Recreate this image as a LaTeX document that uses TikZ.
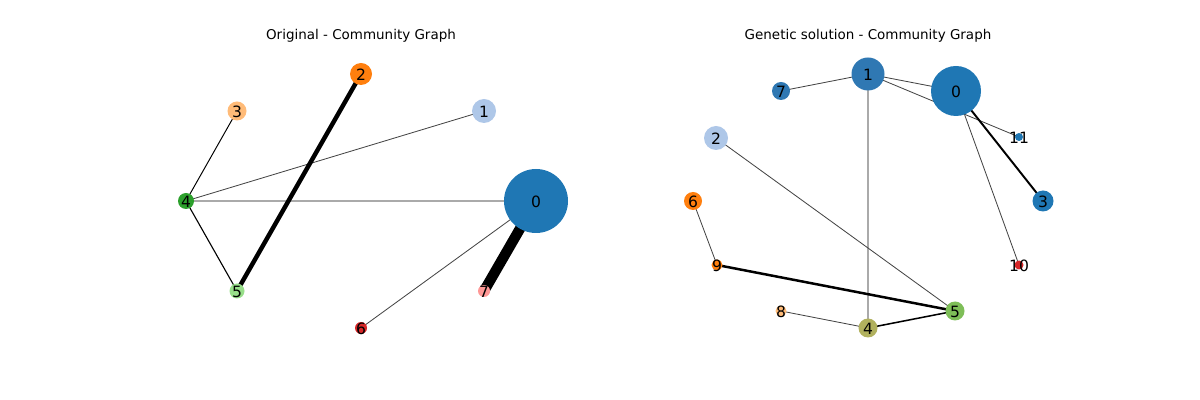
\documentclass[tikz,border=0pt]{standalone}
\usepackage{fontspec}
\setmainfont{DejaVu Sans}
\usetikzlibrary{backgrounds}
\definecolor{cA}{HTML}{1F77B4}
\definecolor{cB}{HTML}{AEC7E8}
\definecolor{cC}{HTML}{FF7F0E}
\definecolor{cD}{HTML}{FFBB78}
\definecolor{cE}{HTML}{2CA02C}
\definecolor{cF}{HTML}{98DF8A}
\definecolor{cG}{HTML}{D62728}
\definecolor{cH}{HTML}{FF9896}
\definecolor{cI}{HTML}{2F78B3}
\definecolor{cJ}{HTML}{B1B15E}
\definecolor{cK}{HTML}{7EBE58}
\definecolor{edk}{HTML}{444444}
\definecolor{egr}{HTML}{AAAAAA}
\tikzset{
  x=0.72pt, y=-0.72pt,
  nd/.style={circle, fill=#1, inner sep=0pt, outer sep=0pt},
  lbl/.style={label={[font=\fontsize{11.2}{12}\selectfont, text=black, inner sep=0pt, yshift=-0.5pt]center:#1}},
  thin edge/.style={draw=edk, line width=0.6pt},
  blk edge/.style={draw=black, line width=#1},
  gry edge/.style={draw=egr, line width=#1},
  ttl/.style={font=\fontsize{9.7}{11}\selectfont, text=black, anchor=base}
}
\begin{document}
\begin{tikzpicture}
\useasboundingbox (0,0) rectangle (1200,400);
% titles
\node[ttl] (t1) at (361,40) {Original - Community Graph};
\node[ttl] (t2) at (868,40) {Genetic solution - Community Graph};
% left graph nodes
\node[nd=cA, minimum size=64*0.72pt, lbl=0] (L0) at (536,201) {};
\node[nd=cB, minimum size=24*0.72pt, lbl=1] (L1) at (484,111) {};
\node[nd=cC, minimum size=22*0.72pt, lbl=2] (L2) at (361,74) {};
\node[nd=cD, minimum size=19*0.72pt, lbl=3] (L3) at (237,111) {};
\node[nd=cE, minimum size=16*0.72pt, lbl=4] (L4) at (186,201) {};
\node[nd=cF, minimum size=15*0.72pt, lbl=5] (L5) at (237,291) {};
\node[nd=cG, minimum size=12*0.72pt, lbl=6] (L6) at (361,328) {};
\node[nd=cH, minimum size=12*0.72pt, lbl=7] (L7) at (484,291) {};
% right graph nodes
\node[nd=cA, minimum size=50*0.72pt, lbl=0] (R0) at (956,91) {};
\node[nd=cI, minimum size=33*0.72pt, lbl=1] (R1) at (868,74) {};
\node[nd=cB, minimum size=24*0.72pt, lbl=2] (R2) at (716,138) {};
\node[nd=cA, minimum size=21*0.72pt, lbl=3] (R3) at (1043,201) {};
\node[nd=cJ, minimum size=19*0.72pt, lbl=4] (R4) at (868,328) {};
\node[nd=cK, minimum size=19*0.72pt, lbl=5] (R5) at (955,311) {};
\node[nd=cC, minimum size=18*0.72pt, lbl=6] (R6) at (693,201) {};
\node[nd=cI, minimum size=18*0.72pt, lbl=7] (R7) at (781,91) {};
\node[nd=cD, minimum size=11*0.72pt, lbl=8] (R8) at (781,311) {};
\node[nd=cC, minimum size=11*0.72pt, lbl=9] (R9) at (717,265) {};
\node[nd=cG, minimum size=9*0.72pt, lbl=10] (R10) at (1019,265) {};
\node[nd=cA, minimum size=8*0.72pt, lbl=11] (R11) at (1019,137) {};
\begin{scope}[on background layer]
% left edges
\draw[blk edge=0.7pt] (L4.center) -- (L3.center);
\draw[thin edge] (L4.center) -- (L1.center);
\draw[gry edge=1.5pt] (L4.center) -- (L0.center);
\draw[blk edge=0.8pt] (L4.center) -- (L5.center);
\draw[blk edge=3.2pt] (L5.center) -- (L2.center);
\draw[blk edge=7.5pt] (L0.center) -- (L7.center);
\draw[thin edge] (L0.center) -- (L6.center);
% right edges
\draw[thin edge] (R1.center) -- (R7.center);
\draw[thin edge] (R1.center) -- (R0.center);
\draw[thin edge] (R1.center) -- (R11.center);
\draw[gry edge=1.8pt] (R1.center) -- (R4.center);
\draw[blk edge=1.4pt] (R0.center) -- (R3.center);
\draw[thin edge] (R0.center) -- (R10.center);
\draw[thin edge] (R2.center) -- (R5.center);
\draw[thin edge] (R6.center) -- (R9.center);
\draw[blk edge=1.8pt] (R9.center) -- (R5.center);
\draw[thin edge] (R8.center) -- (R4.center);
\draw[blk edge=1.1pt] (R4.center) -- (R5.center);
\end{scope}
\end{tikzpicture}
\end{document}
